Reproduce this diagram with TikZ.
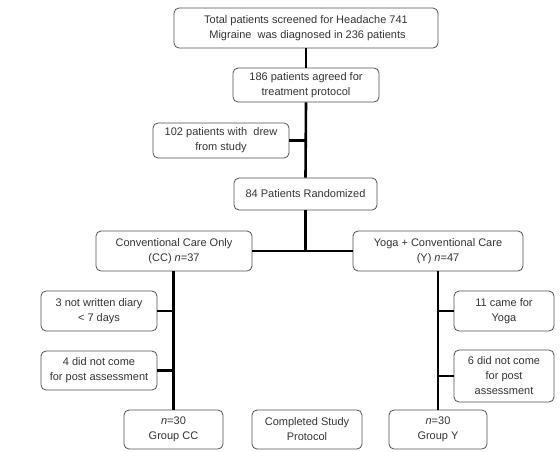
\documentclass[tikz,border=0pt]{standalone}
\usepackage{fontspec}
\setmainfont{Liberation Sans}
\begin{document}
\begin{tikzpicture}[x=1pt,y=-1pt,
  box/.style={draw=boxgray,line width=0.8pt,rounded corners=5pt,inner sep=0pt,align=center,
    font=\fontsize{11}{15}\selectfont,text=txtgray},
  conn/.style={line width=2.6pt,black}]
\definecolor{boxgray}{HTML}{505050}
\definecolor{txtgray}{HTML}{333333}
\useasboundingbox (0,0) rectangle (560,451);
\newcommand{\bx}[6]{\node[box,minimum width=#4-#2,minimum height=#5-#3] (#1) at ({(#2+#4)/2},{(#3+#5)/2}) {#6};}
\bx{b1}{174}{8}{438}{48}{Total patients screened for Headache 741\\ \ Migraine\ \ was diagnosed in 236 patients}
\bx{b2}{233}{68}{379}{102}{186 patients agreed for\\treatment protocol}
\bx{b3}{153}{123}{289}{158}{102 patients with\ \ drew\\from study}
\bx{b4}{234}{178}{377}{210}{84 Patients Randomized}
\bx{cc}{96}{231}{252}{271}{Conventional Care Only\\(CC) \textit{n}=37}
\bx{yy}{353}{231}{523}{271}{Yoga + Conventional Care\\(Y) \textit{n}=47}
\bx{c1}{41}{291}{157}{331}{3 not written diary\\\textless{} 7 days}
\bx{c2}{41}{351}{157}{390}{4 did not come\\for post assessment}
\bx{ncc}{124}{410}{223}{449}{\textit{n}=30\\Group CC}
\bx{comp}{252}{410}{362}{449}{Completed Study\\Protocol}
\bx{ny}{389}{410}{487}{449}{\textit{n}=30\\Group Y}
\bx{y1}{454}{291}{554}{331}{11 came for\\Yoga}
\bx{y2}{454}{350}{554}{402}{6 did not come\\for post\\assessment}
\draw[conn] (b1.south) -- (b2.north);
\draw[conn] (b2.south) -- (b4.north);
\draw[conn] (b3.east) -- (b3.east -| b2.south);
\draw[conn] (b4.south) -- (b4.south |- cc.east);
\draw[conn] (cc.east) -- (yy.west);
\draw[conn] (cc.south -| ncc.north) -- (ncc.north);
\draw[conn] (c1.east) -- (c1.east -| ncc.north);
\draw[conn] (c2.east) -- (c2.east -| ncc.north);
\draw[conn] (yy.south -| ny.north) -- (ny.north);
\draw[conn] (y1.west) -- (y1.west -| ny.north);
\draw[conn] (y2.west) -- (y2.west -| ny.north);
\end{tikzpicture}
\end{document}
